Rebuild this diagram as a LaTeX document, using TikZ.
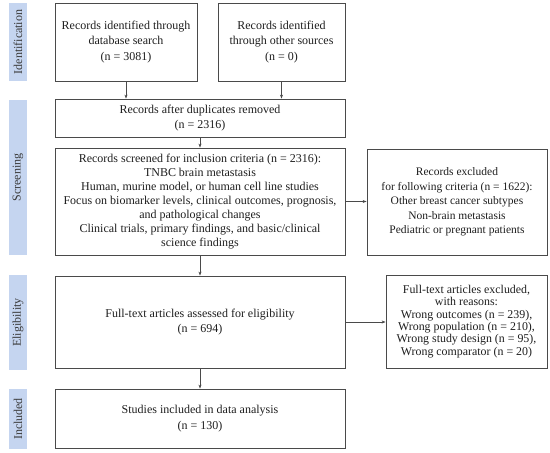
\documentclass[tikz,border=0pt]{standalone}
\usepackage{fontspec}
\setmainfont{Liberation Serif}
\usetikzlibrary{arrows.meta}
\definecolor{sidebar}{HTML}{C5D5F0}
\definecolor{boxline}{HTML}{4A4A4A}
\definecolor{txt}{HTML}{1E1E1E}
\definecolor{sidetxt}{HTML}{3A3A3A}
\begin{document}
\begin{tikzpicture}[x=1pt,y=-1pt,
  flowbox/.style={draw=boxline,line width=0.8pt,align=center,inner sep=2pt,
    font=\fontsize{12}{15.5}\selectfont,text=txt},
  sidelabel/.style={fill=sidebar,draw=none,rotate=90,inner sep=0pt,
    font=\fontsize{12}{14}\selectfont,text=sidetxt},
  conn/.style={draw=boxline,line width=0.8pt,-{Stealth[length=4pt,width=3pt]}}]
\useasboundingbox (0,0) rectangle (550,453);
% side labels
\node[sidelabel,minimum width=78,minimum height=18] (sid) at (18,42) {Identification};
\node[sidelabel,minimum width=155,minimum height=18] (sscr) at (18,177.5) {Screening};
\node[sidelabel,minimum width=95,minimum height=18] (selg) at (18,322.5) {Eligibility};
\node[sidelabel,minimum width=60,minimum height=18] (sinc) at (18,419) {Included};
% boxes
\node[flowbox,minimum width=142,minimum height=78] (A) at (126,42)
  {Records identified through\\database search\\(n = 3081)};
\node[flowbox,minimum width=127,minimum height=78] (B) at (281.5,42)
  {Records identified\\through other sources\\(n = 0)};
\node[flowbox,minimum width=290,minimum height=38] (C) at (200,118)
  {Records after duplicates removed\\(n = 2316)};
\node[flowbox,minimum width=290,minimum height=107,
      font=\fontsize{12}{14}\selectfont] (D) at (200,201.5)
  {Records screened for inclusion criteria (n = 2316):\\TNBC brain metastasis\\Human, murine model, or human cell line studies\\Focus on biomarker levels, clinical outcomes, prognosis,\\and pathological changes\\Clinical trials, primary findings, and basic/clinical\\science findings};
\node[flowbox,minimum width=180,minimum height=106,
      font=\fontsize{11.5}{14.5}\selectfont] (E) at (457,202)
  {Records excluded\\for following criteria (n = 1622):\\Other breast cancer subtypes\\Non-brain metastasis\\Pediatric or pregnant patients};
\node[flowbox,minimum width=161,minimum height=93,
      font=\fontsize{11.9}{12.3}\selectfont] (G) at (466.5,321.5)
  {Full-text articles excluded,\\with reasons:\\Wrong outcomes (n = 239),\\Wrong population (n = 210),\\Wrong study design (n = 95),\\Wrong comparator (n = 20)};
\node[flowbox,minimum width=290,minimum height=92] (F) at (200,322)
  {Full-text articles assessed for eligibility\\(n = 694)};
\node[flowbox,minimum width=290,minimum height=59] (H) at (200,418.5)
  {Studies included in data analysis\\(n = 130)};
% connectors
\draw[conn] (A.south) -- (A.south |- C.north);
\draw[conn] (B.south) -- (B.south |- C.north);
\draw[conn] (C.south) -- (D.north);
\draw[conn] (D.east) -- (D.east -| E.west);
\draw[conn] (D.south) -- (F.north);
\draw[conn] (F.east) -- (F.east -| G.west);
\draw[conn] (F.south) -- (H.north);
\end{tikzpicture}
\end{document}
